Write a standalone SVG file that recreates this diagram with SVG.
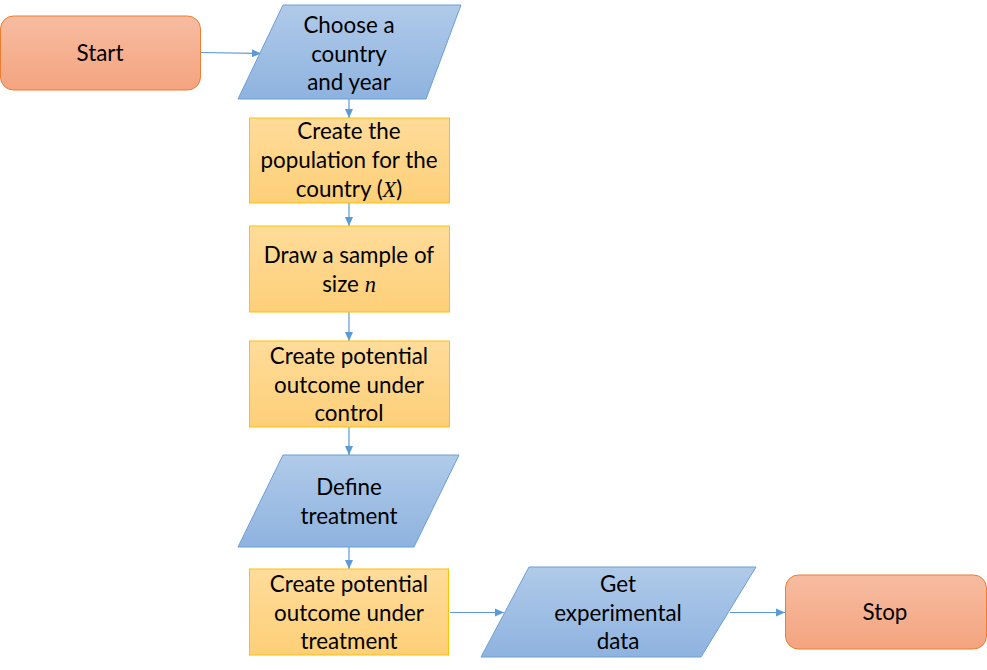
<svg xmlns="http://www.w3.org/2000/svg" width="987" height="670" viewBox="0 0 987 670">
<defs>
<linearGradient id="gOr" x1="0" y1="0" x2="0" y2="1"><stop offset="0" stop-color="#F7BCA1"/><stop offset="1" stop-color="#F4A47F"/></linearGradient>
<linearGradient id="gBl" x1="0" y1="0" x2="0" y2="1"><stop offset="0" stop-color="#B0CAE9"/><stop offset="1" stop-color="#8EB3DF"/></linearGradient>
<linearGradient id="gYe" x1="0" y1="0" x2="0" y2="1"><stop offset="0" stop-color="#FFDC9A"/><stop offset="1" stop-color="#FDCF78"/></linearGradient>
<marker id="arr" markerWidth="10" markerHeight="10" refX="9" refY="5" orient="auto" markerUnits="userSpaceOnUse"><path d="M0,1 L9,5 L0,9 Z" fill="#5B9BD5"/></marker>
</defs>
<style>
.term{fill:url(#gOr);stroke:#ED7D31;stroke-width:1}
.io{fill:url(#gBl);stroke:#6A9FD4;stroke-width:1}
.proc{fill:url(#gYe);stroke:#FFC000;stroke-width:1}
.conn{stroke:#5B9BD5;stroke-width:1.2;fill:none;marker-end:url(#arr)}
text{font-family:Lato,"Open Sans","Liberation Sans",sans-serif;font-size:22.4px;fill:#000;text-anchor:middle}
.m{font-family:"Liberation Serif",serif;font-style:italic}
</style>
<g id="connectors">
<path class="conn" d="M200,52.5 L261,53.5"/>
<path class="conn" d="M349,99 L349,118"/>
<path class="conn" d="M349,203 L349,226"/>
<path class="conn" d="M349,312 L349,341"/>
<path class="conn" d="M349,427 L349,455"/>
<path class="conn" d="M349,547 L349,569"/>
<path class="conn" d="M450,612.5 L504,612.5"/>
<path class="conn" d="M730,612.5 L785,612.5"/>
</g>
<g id="start"><rect class="term" x="0.5" y="16" width="200" height="74" rx="13"/><text x="100" y="61">Start</text></g>
<g id="choose"><polygon class="io" points="283,5 461,5 426,99 238,99"/>
<text x="349" y="33">Choose a</text><text x="349" y="62">country</text><text x="349" y="90">and year</text></g>
<g id="population"><rect class="proc" x="249.5" y="118" width="200" height="85"/>
<text x="349" y="139">Create the</text><text x="349" y="168">population for the</text><text x="349" y="197">country (<tspan class="m">X</tspan>)</text></g>
<g id="sample"><rect class="proc" x="249.5" y="226" width="200" height="86"/>
<text x="349" y="263">Draw a sample of</text><text x="349" y="292">size <tspan class="m">n</tspan></text></g>
<g id="control"><rect class="proc" x="249.5" y="341" width="200" height="86"/>
<text x="349" y="364">Create potential</text><text x="349" y="393">outcome under</text><text x="349" y="421">control</text></g>
<g id="define"><polygon class="io" points="283,455 459,455 414,547 238,547"/>
<text x="349" y="495">Define</text><text x="349" y="524">treatment</text></g>
<g id="treat"><rect class="proc" x="249.5" y="569" width="199" height="86"/>
<text x="349" y="592">Create potential</text><text x="349" y="621">outcome under</text><text x="349" y="649">treatment</text></g>
<g id="get"><polygon class="io" points="529,567 756,567 701,657 481,657"/>
<text x="618" y="592">Get</text><text x="618" y="621">experimental</text><text x="618" y="649">data</text></g>
<g id="stop"><rect class="term" x="785.5" y="575" width="201" height="74" rx="13"/><text x="885" y="620">Stop</text></g>
</svg>
